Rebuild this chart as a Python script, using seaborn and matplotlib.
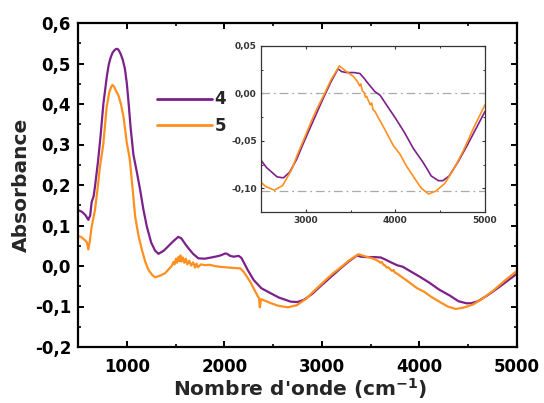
import numpy as np
import pandas as pd
import matplotlib
matplotlib.use("Agg")
import matplotlib.pyplot as plt
import seaborn as sns
from matplotlib.ticker import MultipleLocator, FuncFormatter

# ---------------- data ----------------
wn_4 = [500, 540, 575, 606, 625, 640, 660, 675, 705, 730, 760, 795, 815, 835, 855, 875,
        890, 905, 920, 940, 960, 980, 1000, 1016, 1040, 1068, 1103, 1137, 1170, 1206,
        1250, 1290, 1325, 1380, 1426, 1480, 1528, 1560, 1600, 1631, 1680, 1733, 1800,
        1908, 1960, 2010, 2028, 2060, 2096, 2147, 2175, 2199, 2240, 2302, 2380, 2473,
        2560, 2680, 2750, 2820, 2900, 2980, 3050, 3120, 3200, 3280, 3360, 3400, 3456,
        3540, 3604, 3650, 3700, 3770, 3830, 3900, 4000, 4100, 4200, 4311, 4400, 4480,
        4530, 4600, 4700, 4800, 4900, 5000]
abs_4 = [0.138, 0.134, 0.126, 0.114, 0.125, 0.158, 0.172, 0.198, 0.258, 0.318, 0.400,
         0.467, 0.497, 0.515, 0.527, 0.533, 0.536, 0.536, 0.532, 0.522, 0.508, 0.488,
         0.452, 0.410, 0.340, 0.275, 0.232, 0.188, 0.140, 0.097, 0.058, 0.038, 0.030,
         0.038, 0.049, 0.062, 0.072, 0.068, 0.054, 0.044, 0.030, 0.019, 0.018, 0.023,
         0.026, 0.031, 0.030, 0.025, 0.023, 0.025, 0.020, 0.009, -0.010, -0.035, -0.055,
         -0.067, -0.078, -0.088, -0.089, -0.083, -0.069, -0.051, -0.036, -0.021, -0.004,
         0.012, 0.026, 0.023, 0.022, 0.022, 0.021, 0.016, 0.010, 0.002, -0.002, -0.012,
         -0.026, -0.041, -0.058, -0.073, -0.087, -0.092, -0.092, -0.087, -0.072, -0.055,
         -0.037, -0.019]

wn_5 = [500, 530, 575, 592, 606, 620, 640, 674, 700, 725, 759, 794, 820, 840, 852, 870,
        890, 913, 940, 966, 1000, 1030, 1060, 1086, 1120, 1155, 1190, 1223, 1260, 1291,
        1340, 1392, 1430, 1460, 1480, 1490, 1505, 1515, 1530, 1540, 1550, 1560, 1575,
        1590, 1605, 1620, 1640, 1660, 1680, 1700, 1715, 1730, 1760, 1800, 1850, 1900,
        1955, 2050, 2165, 2200, 2268, 2337, 2355, 2364, 2375, 2400, 2468, 2550, 2650,
        2742, 2844, 2900, 2980, 3050, 3120, 3200, 3280, 3375, 3440, 3530, 3580, 3600,
        3615, 3630, 3650, 3665, 3679, 3700, 3720, 3735, 3750, 3772, 3800, 3865, 3977,
        4051, 4120, 4210, 4290, 4370, 4450, 4550, 4650, 4760, 4880, 5000]
abs_5 = [0.074, 0.072, 0.063, 0.058, 0.041, 0.060, 0.097, 0.138, 0.190, 0.245, 0.300,
         0.393, 0.428, 0.442, 0.447, 0.443, 0.432, 0.422, 0.400, 0.369, 0.305, 0.265,
         0.190, 0.122, 0.075, 0.040, 0.010, -0.010, -0.022, -0.028, -0.024, -0.018,
         -0.008, 0.000, 0.010, 0.004, 0.018, 0.008, 0.022, 0.012, 0.026, 0.011, 0.021,
         0.008, 0.018, 0.004, 0.013, 0.001, 0.009, -0.004, 0.006, -0.003, 0.004, 0.002,
         0.003, 0.000, -0.002, -0.004, -0.006, -0.015, -0.040, -0.072, -0.079, -0.102,
         -0.082, -0.084, -0.091, -0.098, -0.102, -0.097, -0.080, -0.066, -0.048, -0.032,
         -0.017, -0.002, 0.014, 0.029, 0.024, 0.018, 0.012, 0.008, 0.010, 0.003, 0.001,
         -0.004, -0.003, -0.008, -0.012, -0.010, -0.017, -0.019, -0.024, -0.035, -0.055,
         -0.064, -0.076, -0.089, -0.100, -0.106, -0.103, -0.095, -0.080, -0.060, -0.035,
         -0.012]

series_labels = ["4", "5"]
ref_lines = [0.0, -0.103]

main_xticks = [1000, 2000, 3000, 4000, 5000]
inset_xticks = [3000, 4000, 5000]

PURPLE = "#7B2189"
ORANGE = "#FF8F1F"

df = pd.concat([
    pd.DataFrame({"wn": wn_4, "A": abs_4, "sample": series_labels[0]}),
    pd.DataFrame({"wn": wn_5, "A": abs_5, "sample": series_labels[1]}),
], ignore_index=True)
palette = {series_labels[0]: PURPLE, series_labels[1]: ORANGE}

# ---------------- style ----------------
sns.set_theme(style="ticks")
plt.rcParams["font.family"] = ["DejaVu Sans"]
plt.rcParams["font.weight"] = "bold"
plt.rcParams["axes.unicode_minus"] = False
plt.rcParams["mathtext.default"] = "bf"


def comma_fmt(decimals):
    def f(v, pos):
        v = round(v, decimals + 2)
        if abs(v) < 1e-9:
            v = 0.0
        return f"{v:.{decimals}f}".replace(".", ",")
    return FuncFormatter(f)


fig = plt.figure(figsize=(5.44, 4.03), dpi=100)
ax = fig.add_axes([78 / 544, 1 - 347 / 403, 439 / 544, 324 / 403])

sns.lineplot(data=df, x="wn", y="A", hue="sample", palette=palette, ax=ax,
             linewidth=1.6, estimator=None, sort=False)

ax.set_xlim(500, 5000)
ax.set_ylim(-0.2, 0.6)
ax.set_xticks(main_xticks)
ax.xaxis.set_minor_locator(MultipleLocator(500))
ax.yaxis.set_major_locator(MultipleLocator(0.1))
ax.yaxis.set_minor_locator(MultipleLocator(0.05))
ax.yaxis.set_major_formatter(comma_fmt(1))
for s in ax.spines.values():
    s.set_linewidth(1.6)
    s.set_color("black")
    s.set_visible(True)
ax.tick_params(which="both", direction="in", top=True, right=True, colors="black")
ax.tick_params(which="major", length=4.5, width=1.4, labelsize=12)
ax.tick_params(which="minor", length=2.5, width=1.2)
ax.tick_params(axis="y", which="major", pad=5)
ax.tick_params(axis="x", which="major", pad=8)
for lab in ax.get_xticklabels() + ax.get_yticklabels():
    lab.set_fontweight("bold")

ax.set_xlabel("Nombre d'onde (cm$^{-1}$)", fontsize=14.5, fontweight="bold")
ax.set_ylabel("Absorbance", fontsize=14.5, fontweight="bold")
ax.xaxis.set_label_coords(0.505, -0.09)
ax.yaxis.set_label_coords(-0.107, 0.5)

handles, labels = ax.get_legend_handles_labels()
hl = [(h, l) for h, l in zip(handles, labels) if l in series_labels]
leg = ax.legend([h for h, _ in hl], [l for _, l in hl], loc="center left",
                bbox_to_anchor=((157 - 78) / 439, (347 - 112.5) / 324),
                frameon=False, handlelength=3.3, handletextpad=0.15,
                labelspacing=0.5, borderpad=0, borderaxespad=0,
                prop={"weight": "bold", "size": 12})
for line in leg.get_lines():
    line.set_linewidth(2.0)

# ---------------- inset ----------------
axin = fig.add_axes([261 / 544, 1 - 212 / 403, 224 / 544, 166 / 403])
for yv in ref_lines:
    axin.axhline(yv, color="#AAAAAA", linewidth=0.9, linestyle=(0, (7, 3, 1.5, 3)), zorder=1)
sns.lineplot(data=df, x="wn", y="A", hue="sample", palette=palette, ax=axin,
             linewidth=1.2, estimator=None, sort=False, legend=False)
axin.set_xlim(2500, 5000)
axin.set_ylim(-0.125, 0.05)
axin.set_xticks(inset_xticks)
axin.xaxis.set_minor_locator(MultipleLocator(500))
axin.yaxis.set_major_locator(MultipleLocator(0.05))
axin.yaxis.set_minor_locator(MultipleLocator(0.025))
axin.yaxis.set_major_formatter(comma_fmt(2))
axin.set_xlabel("")
axin.set_ylabel("")
for s in axin.spines.values():
    s.set_linewidth(0.9)
    s.set_color("#333333")
axin.tick_params(which="both", direction="in", top=True, right=True, colors="#333333")
axin.tick_params(which="major", length=2.5, width=0.8, labelsize=6.5, pad=3)
axin.tick_params(which="minor", length=1.5, width=0.7)
for lab in axin.get_xticklabels() + axin.get_yticklabels():
    lab.set_fontweight("bold")
    lab.set_color("#333333")

fig.savefig("out.png", dpi=100)
